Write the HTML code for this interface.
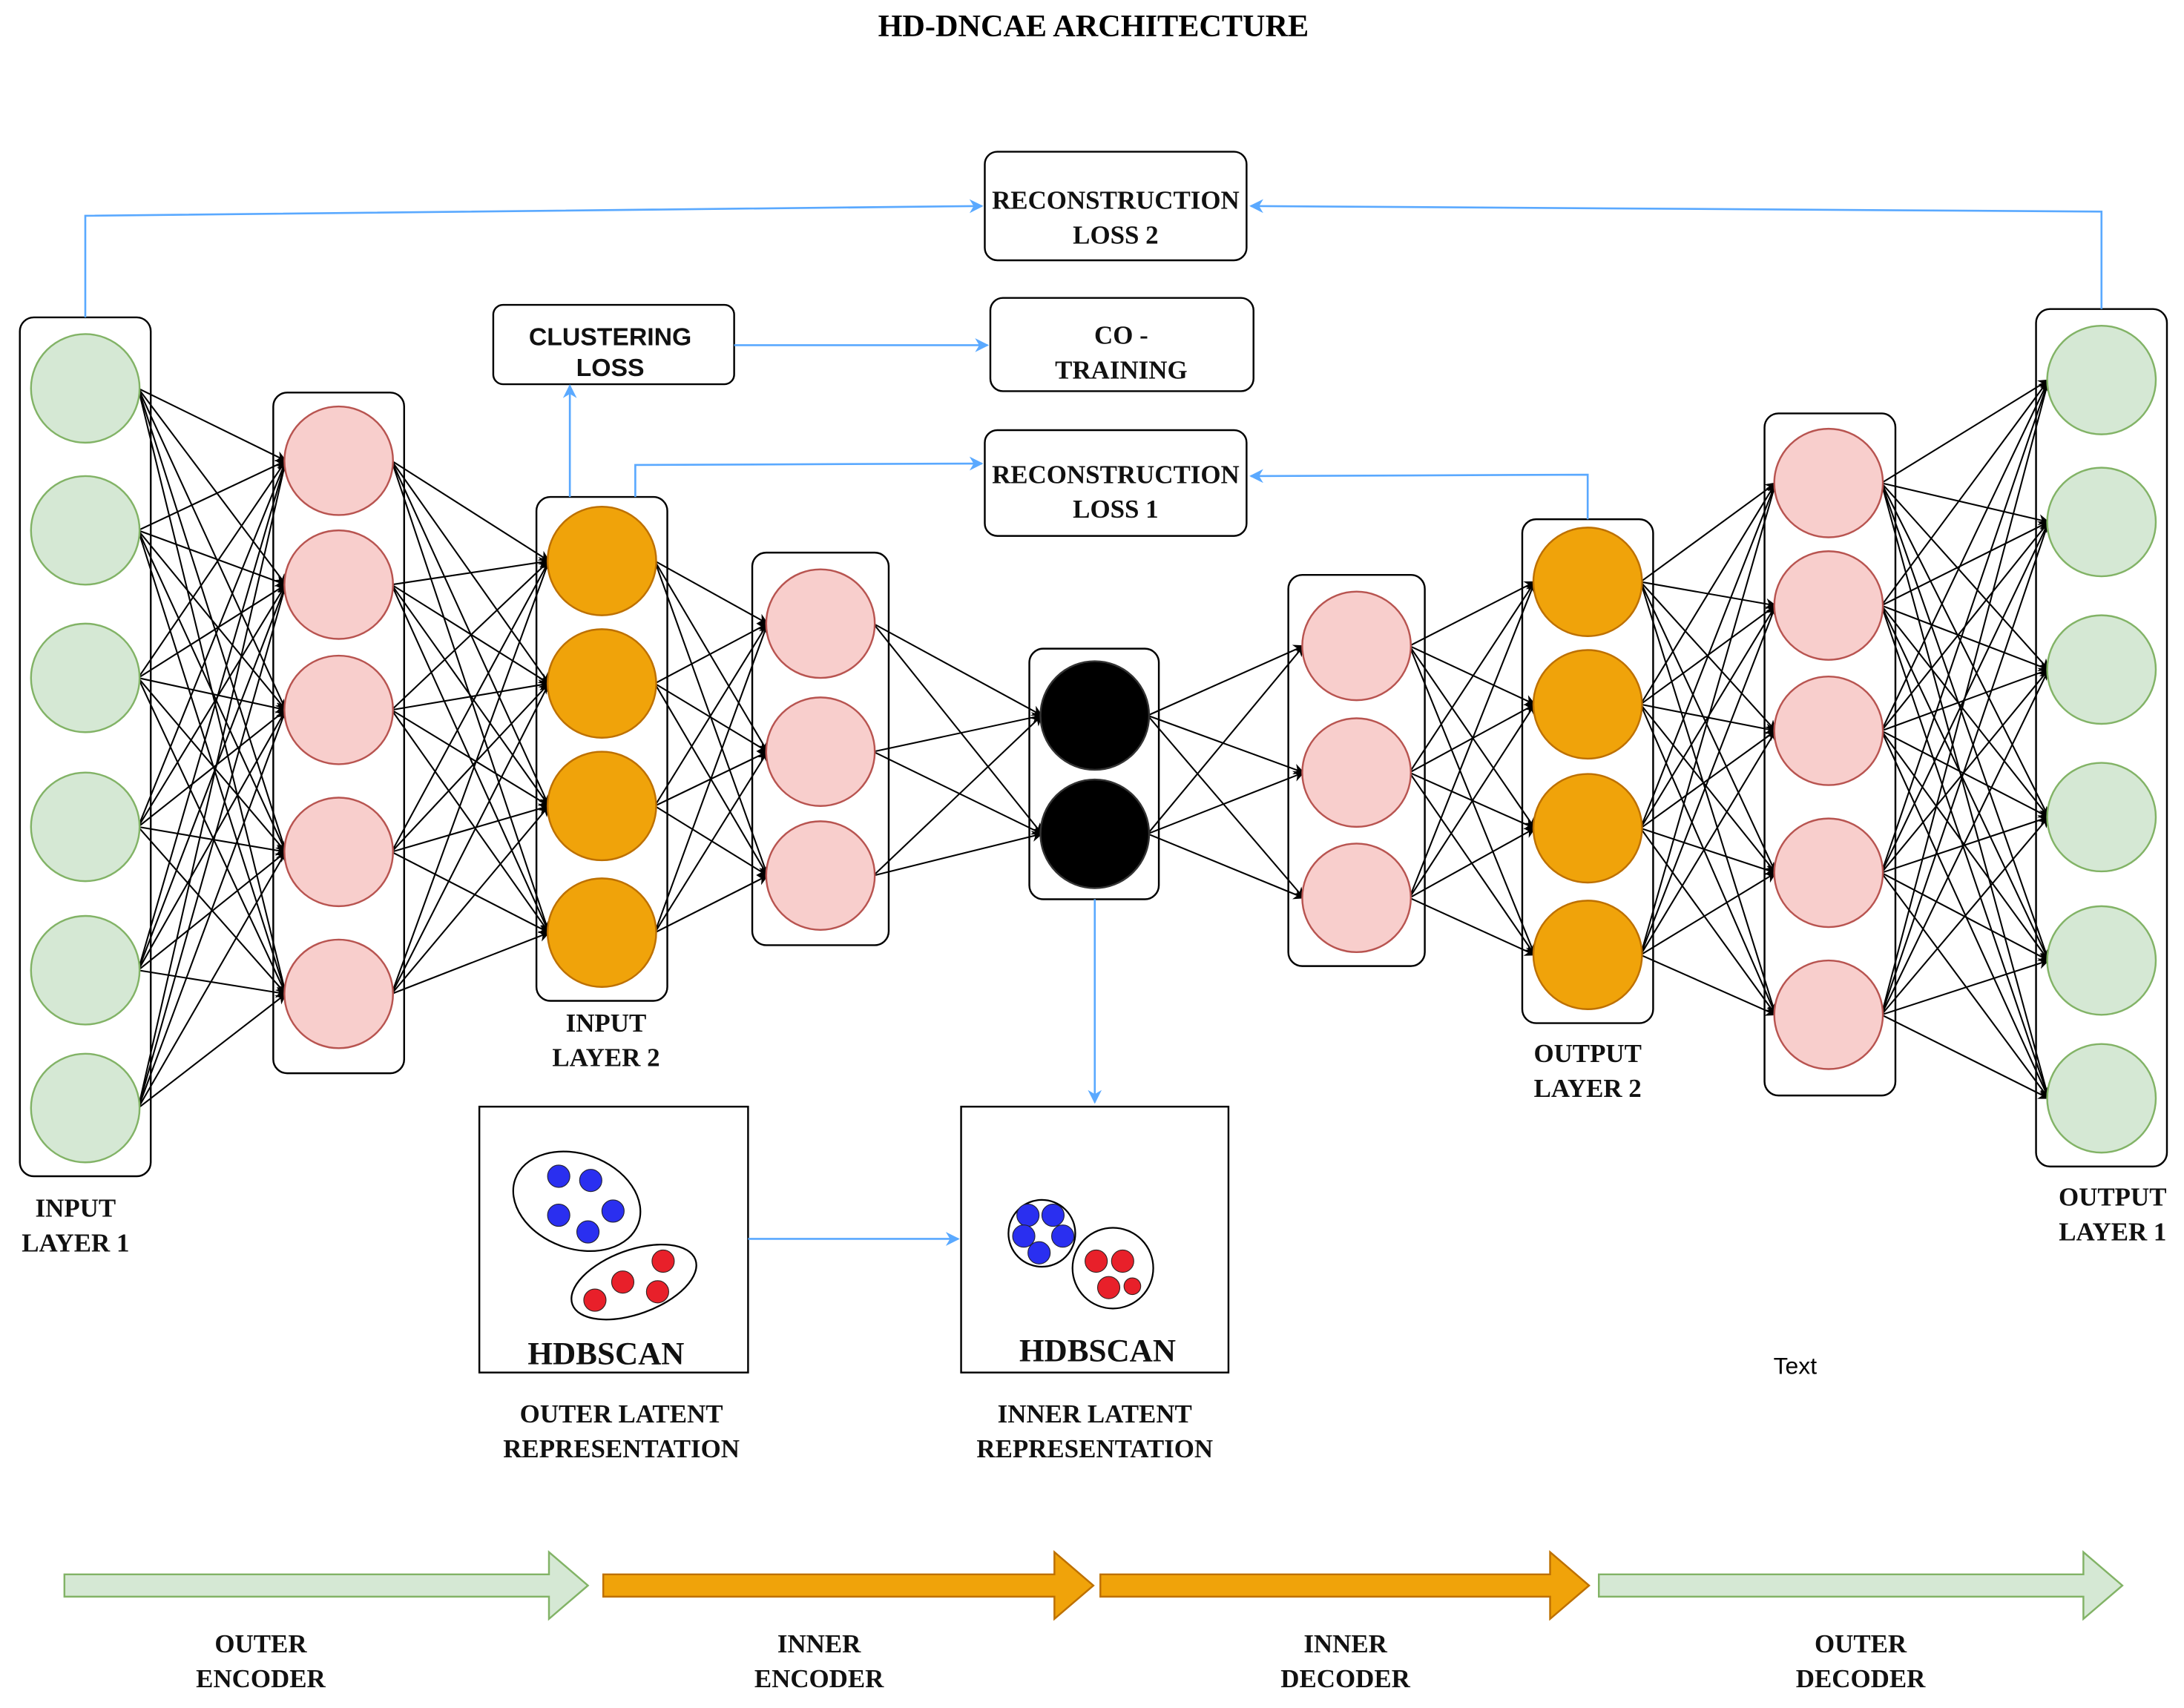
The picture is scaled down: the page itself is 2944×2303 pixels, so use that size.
<!DOCTYPE html>
<html><head><meta charset="utf-8">
<style>html,body{margin:0;padding:0;background:#fff}svg{display:block}</style>
</head><body>
<svg xmlns="http://www.w3.org/2000/svg" width="2944" height="2303" viewBox="0 0 1568 1227">
<defs>
<marker id="ak" viewBox="0 0 10 10" refX="9" refY="5" markerWidth="8" markerHeight="8" orient="auto" markerUnits="userSpaceOnUse"><path d="M0,0 L10,5 L0,10 L3,5 z" fill="#000"/></marker>
<marker id="ab" viewBox="0 0 10 10" refX="9" refY="5" markerWidth="10" markerHeight="10" orient="auto" markerUnits="userSpaceOnUse"><path d="M0,0 L10,5 L0,10 L3,5 z" fill="#5aa9ff"/></marker>
</defs>
<rect width="1568" height="1227" fill="#fff"/>
<text x="785" y="26" text-anchor="middle" font-family="Liberation Serif, serif" font-weight="bold" font-size="22.5">HD-DNCAE ARCHITECTURE</text>
<g stroke="#000" stroke-width="1.1" fill="none" marker-end="url(#ak)">
<line x1="99" y1="279" x2="205" y2="331"/><line x1="99" y1="279" x2="205" y2="420"/><line x1="99" y1="279" x2="205" y2="510"/><line x1="99" y1="279" x2="205" y2="612"/><line x1="99" y1="279" x2="205" y2="714"/>
<line x1="99" y1="381" x2="205" y2="331"/><line x1="99" y1="381" x2="205" y2="420"/><line x1="99" y1="381" x2="205" y2="510"/><line x1="99" y1="381" x2="205" y2="612"/><line x1="99" y1="381" x2="205" y2="714"/>
<line x1="99" y1="487" x2="205" y2="331"/><line x1="99" y1="487" x2="205" y2="420"/><line x1="99" y1="487" x2="205" y2="510"/><line x1="99" y1="487" x2="205" y2="612"/><line x1="99" y1="487" x2="205" y2="714"/>
<line x1="99" y1="594" x2="205" y2="331"/><line x1="99" y1="594" x2="205" y2="420"/><line x1="99" y1="594" x2="205" y2="510"/><line x1="99" y1="594" x2="205" y2="612"/><line x1="99" y1="594" x2="205" y2="714"/>
<line x1="99" y1="697" x2="205" y2="331"/><line x1="99" y1="697" x2="205" y2="420"/><line x1="99" y1="697" x2="205" y2="510"/><line x1="99" y1="697" x2="205" y2="612"/><line x1="99" y1="697" x2="205" y2="714"/>
<line x1="99" y1="796" x2="205" y2="331"/><line x1="99" y1="796" x2="205" y2="420"/><line x1="99" y1="796" x2="205" y2="510"/><line x1="99" y1="796" x2="205" y2="612"/><line x1="99" y1="796" x2="205" y2="714"/>
<line x1="281" y1="331" x2="394" y2="403"/><line x1="281" y1="331" x2="394" y2="491"/><line x1="281" y1="331" x2="394" y2="579"/><line x1="281" y1="331" x2="394" y2="670"/>
<line x1="281" y1="420" x2="394" y2="403"/><line x1="281" y1="420" x2="394" y2="491"/><line x1="281" y1="420" x2="394" y2="579"/><line x1="281" y1="420" x2="394" y2="670"/>
<line x1="281" y1="510" x2="394" y2="403"/><line x1="281" y1="510" x2="394" y2="491"/><line x1="281" y1="510" x2="394" y2="579"/><line x1="281" y1="510" x2="394" y2="670"/>
<line x1="281" y1="612" x2="394" y2="403"/><line x1="281" y1="612" x2="394" y2="491"/><line x1="281" y1="612" x2="394" y2="579"/><line x1="281" y1="612" x2="394" y2="670"/>
<line x1="281" y1="714" x2="394" y2="403"/><line x1="281" y1="714" x2="394" y2="491"/><line x1="281" y1="714" x2="394" y2="579"/><line x1="281" y1="714" x2="394" y2="670"/>
<line x1="470" y1="403" x2="551" y2="448"/><line x1="470" y1="403" x2="551" y2="540"/><line x1="470" y1="403" x2="551" y2="629"/>
<line x1="470" y1="491" x2="551" y2="448"/><line x1="470" y1="491" x2="551" y2="540"/><line x1="470" y1="491" x2="551" y2="629"/>
<line x1="470" y1="579" x2="551" y2="448"/><line x1="470" y1="579" x2="551" y2="540"/><line x1="470" y1="579" x2="551" y2="629"/>
<line x1="470" y1="670" x2="551" y2="448"/><line x1="470" y1="670" x2="551" y2="540"/><line x1="470" y1="670" x2="551" y2="629"/>
<line x1="627" y1="448" x2="748" y2="514"/><line x1="627" y1="448" x2="748" y2="599"/>
<line x1="627" y1="540" x2="748" y2="514"/><line x1="627" y1="540" x2="748" y2="599"/>
<line x1="627" y1="629" x2="748" y2="514"/><line x1="627" y1="629" x2="748" y2="599"/>
<line x1="824" y1="514" x2="936" y2="464"/><line x1="824" y1="514" x2="936" y2="555"/><line x1="824" y1="514" x2="936" y2="645"/>
<line x1="824" y1="599" x2="936" y2="464"/><line x1="824" y1="599" x2="936" y2="555"/><line x1="824" y1="599" x2="936" y2="645"/>
<line x1="1012" y1="464" x2="1102" y2="418"/><line x1="1012" y1="464" x2="1102" y2="506"/><line x1="1012" y1="464" x2="1102" y2="595"/><line x1="1012" y1="464" x2="1102" y2="686"/>
<line x1="1012" y1="555" x2="1102" y2="418"/><line x1="1012" y1="555" x2="1102" y2="506"/><line x1="1012" y1="555" x2="1102" y2="595"/><line x1="1012" y1="555" x2="1102" y2="686"/>
<line x1="1012" y1="645" x2="1102" y2="418"/><line x1="1012" y1="645" x2="1102" y2="506"/><line x1="1012" y1="645" x2="1102" y2="595"/><line x1="1012" y1="645" x2="1102" y2="686"/>
<line x1="1178" y1="418" x2="1275" y2="347"/><line x1="1178" y1="418" x2="1275" y2="435"/><line x1="1178" y1="418" x2="1275" y2="525"/><line x1="1178" y1="418" x2="1275" y2="627"/><line x1="1178" y1="418" x2="1275" y2="729"/>
<line x1="1178" y1="506" x2="1275" y2="347"/><line x1="1178" y1="506" x2="1275" y2="435"/><line x1="1178" y1="506" x2="1275" y2="525"/><line x1="1178" y1="506" x2="1275" y2="627"/><line x1="1178" y1="506" x2="1275" y2="729"/>
<line x1="1178" y1="595" x2="1275" y2="347"/><line x1="1178" y1="595" x2="1275" y2="435"/><line x1="1178" y1="595" x2="1275" y2="525"/><line x1="1178" y1="595" x2="1275" y2="627"/><line x1="1178" y1="595" x2="1275" y2="729"/>
<line x1="1178" y1="686" x2="1275" y2="347"/><line x1="1178" y1="686" x2="1275" y2="435"/><line x1="1178" y1="686" x2="1275" y2="525"/><line x1="1178" y1="686" x2="1275" y2="627"/><line x1="1178" y1="686" x2="1275" y2="729"/>
<line x1="1351" y1="347" x2="1471" y2="273"/><line x1="1351" y1="347" x2="1471" y2="375"/><line x1="1351" y1="347" x2="1471" y2="481"/><line x1="1351" y1="347" x2="1471" y2="587"/><line x1="1351" y1="347" x2="1471" y2="690"/><line x1="1351" y1="347" x2="1471" y2="789"/>
<line x1="1351" y1="435" x2="1471" y2="273"/><line x1="1351" y1="435" x2="1471" y2="375"/><line x1="1351" y1="435" x2="1471" y2="481"/><line x1="1351" y1="435" x2="1471" y2="587"/><line x1="1351" y1="435" x2="1471" y2="690"/><line x1="1351" y1="435" x2="1471" y2="789"/>
<line x1="1351" y1="525" x2="1471" y2="273"/><line x1="1351" y1="525" x2="1471" y2="375"/><line x1="1351" y1="525" x2="1471" y2="481"/><line x1="1351" y1="525" x2="1471" y2="587"/><line x1="1351" y1="525" x2="1471" y2="690"/><line x1="1351" y1="525" x2="1471" y2="789"/>
<line x1="1351" y1="627" x2="1471" y2="273"/><line x1="1351" y1="627" x2="1471" y2="375"/><line x1="1351" y1="627" x2="1471" y2="481"/><line x1="1351" y1="627" x2="1471" y2="587"/><line x1="1351" y1="627" x2="1471" y2="690"/><line x1="1351" y1="627" x2="1471" y2="789"/>
<line x1="1351" y1="729" x2="1471" y2="273"/><line x1="1351" y1="729" x2="1471" y2="375"/><line x1="1351" y1="729" x2="1471" y2="481"/><line x1="1351" y1="729" x2="1471" y2="587"/><line x1="1351" y1="729" x2="1471" y2="690"/><line x1="1351" y1="729" x2="1471" y2="789"/>
</g>
<g fill="none" stroke="#000" stroke-width="1.3">
<rect x="14" y="228" width="94" height="617" rx="10"/>
<rect x="196" y="282" width="94" height="489" rx="10"/>
<rect x="385" y="357" width="94" height="362" rx="10"/>
<rect x="540" y="397" width="98" height="282" rx="10"/>
<rect x="739" y="466" width="93" height="180" rx="10"/>
<rect x="925" y="413" width="98" height="281" rx="10"/>
<rect x="1093" y="373" width="94" height="362" rx="10"/>
<rect x="1267" y="297" width="94" height="490" rx="10"/>
<rect x="1462" y="222" width="94" height="616" rx="10"/>
</g>
<g fill="#d5e8d4" stroke="#82b366" stroke-width="1.3">
<circle cx="61" cy="279" r="39"/><circle cx="61" cy="381" r="39"/><circle cx="61" cy="487" r="39"/><circle cx="61" cy="594" r="39"/><circle cx="61" cy="697" r="39"/><circle cx="61" cy="796" r="39"/>
<circle cx="1509" cy="273" r="39"/><circle cx="1509" cy="375" r="39"/><circle cx="1509" cy="481" r="39"/><circle cx="1509" cy="587" r="39"/><circle cx="1509" cy="690" r="39"/><circle cx="1509" cy="789" r="39"/>
</g>
<g fill="#f8cecc" stroke="#b85450" stroke-width="1.3">
<circle cx="243" cy="331" r="39"/><circle cx="243" cy="420" r="39"/><circle cx="243" cy="510" r="39"/><circle cx="243" cy="612" r="39"/><circle cx="243" cy="714" r="39"/>
<circle cx="589" cy="448" r="39"/><circle cx="589" cy="540" r="39"/><circle cx="589" cy="629" r="39"/>
<circle cx="974" cy="464" r="39"/><circle cx="974" cy="555" r="39"/><circle cx="974" cy="645" r="39"/>
<circle cx="1313" cy="347" r="39"/><circle cx="1313" cy="435" r="39"/><circle cx="1313" cy="525" r="39"/><circle cx="1313" cy="627" r="39"/><circle cx="1313" cy="729" r="39"/>
</g>
<g fill="#f0a30a" stroke="#bd7000" stroke-width="1.3">
<circle cx="432" cy="403" r="39"/><circle cx="432" cy="491" r="39"/><circle cx="432" cy="579" r="39"/><circle cx="432" cy="670" r="39"/>
<circle cx="1140" cy="418" r="39"/><circle cx="1140" cy="506" r="39"/><circle cx="1140" cy="595" r="39"/><circle cx="1140" cy="686" r="39"/>
</g>
<g fill="#000" stroke="#333" stroke-width="1.3">
<circle cx="786" cy="514" r="39"/><circle cx="786" cy="599" r="39"/>
</g>
<g fill="#fff" stroke="#000" stroke-width="1.3">
<rect x="707" y="109" width="188" height="78" rx="9"/>
<rect x="354" y="219" width="173" height="57" rx="7"/>
<rect x="711" y="214" width="189" height="67" rx="9"/>
<rect x="707" y="309" width="188" height="76" rx="9"/>
<rect x="344" y="795" width="193" height="191"/>
<rect x="690" y="795" width="192" height="191"/>
</g>
<g font-family="Liberation Serif, serif" font-weight="bold" font-size="18.6" text-anchor="middle" fill="#111">
<text x="801" y="150">RECONSTRUCTION</text><text x="801" y="175">LOSS 2</text>
<text x="805" y="247">CO -</text><text x="805" y="272">TRAINING</text>
<text x="801" y="347">RECONSTRUCTION</text><text x="801" y="372">LOSS 1</text>
<text x="54" y="874">INPUT</text><text x="54" y="899">LAYER 1</text>
<text x="435" y="741">INPUT</text><text x="435" y="766">LAYER 2</text>
<text x="1140" y="763">OUTPUT</text><text x="1140" y="788">LAYER 2</text>
<text x="1517" y="866">OUTPUT</text><text x="1517" y="891">LAYER 1</text>
<text x="446" y="1022">OUTER LATENT</text><text x="446" y="1047">REPRESENTATION</text>
<text x="786" y="1022">INNER LATENT</text><text x="786" y="1047">REPRESENTATION</text>
<text x="187" y="1187">OUTER</text><text x="187" y="1212">ENCODER</text>
<text x="588" y="1187">INNER</text><text x="588" y="1212">ENCODER</text>
<text x="966" y="1187">INNER</text><text x="966" y="1212">DECODER</text>
<text x="1336" y="1187">OUTER</text><text x="1336" y="1212">DECODER</text>
<text x="435" y="980" font-size="23">HDBSCAN</text>
<text x="788" y="978" font-size="23">HDBSCAN</text>
</g>
<g font-family="Liberation Sans, sans-serif" font-weight="bold" font-size="18" text-anchor="middle" fill="#111">
<text x="438" y="248">CLUSTERING</text><text x="438" y="270">LOSS</text>
</g>
<text x="1289" y="987" font-family="Liberation Sans, sans-serif" font-size="17" text-anchor="middle">Text</text>
<g stroke="#5aa9ff" stroke-width="1.4" fill="none">
<polyline points="61,228 61,155 705,148" marker-end="url(#ab)"/>
<polyline points="1509,222 1509,152 898,148" marker-end="url(#ab)"/>
<polyline points="409,357 409,277" marker-end="url(#ab)"/>
<polyline points="527,248 709,248" marker-end="url(#ab)"/>
<polyline points="456,357 456,334 705,333" marker-end="url(#ab)"/>
<polyline points="1140,373 1140,341 898,342" marker-end="url(#ab)"/>
<polyline points="786,646 786,792" marker-end="url(#ab)"/>
<polyline points="537,890 688,890" marker-end="url(#ab)"/>
</g>
<g stroke="#000" stroke-width="1.2" fill="#fff">
<ellipse cx="414" cy="863" rx="47" ry="34" transform="rotate(20 414 863)"/>
<ellipse cx="455" cy="921" rx="47" ry="23" transform="rotate(-20 455 921)"/>
<circle cx="748" cy="886" r="24"/>
<circle cx="799" cy="911" r="29"/>
</g>
<g fill="#2a2ff0" stroke="#223" stroke-width="0.6">
<circle cx="401" cy="845" r="8"/><circle cx="424" cy="848" r="8"/><circle cx="401" cy="873" r="8"/><circle cx="422" cy="885" r="8"/><circle cx="440" cy="870" r="8"/>
<circle cx="738" cy="873" r="8"/><circle cx="756" cy="873" r="8"/><circle cx="735" cy="888" r="8"/><circle cx="763" cy="888" r="8"/><circle cx="746" cy="900" r="8"/>
</g>
<g fill="#e8202a" stroke="#322" stroke-width="0.6">
<circle cx="476" cy="906" r="8"/><circle cx="447" cy="921" r="8"/><circle cx="472" cy="928" r="8"/><circle cx="427" cy="934" r="8"/>
<circle cx="787" cy="906" r="8"/><circle cx="806" cy="906" r="8"/><circle cx="796" cy="925" r="8"/><circle cx="813" cy="924" r="6"/>
</g>
<g stroke-width="1.3">
<path d="M46,1131 H394 V1115 L422,1139 L394,1163 V1147 H46 Z" fill="#d5e8d4" stroke="#82b366"/>
<path d="M433,1131 H757 V1115 L785,1139 L757,1163 V1147 H433 Z" fill="#f0a30a" stroke="#bd7000"/>
<path d="M790,1131 H1113 V1115 L1141,1139 L1113,1163 V1147 H790 Z" fill="#f0a30a" stroke="#bd7000"/>
<path d="M1148,1131 H1496 V1115 L1524,1139 L1496,1163 V1147 H1148 Z" fill="#d5e8d4" stroke="#82b366"/>
</g>
</svg>
</body></html>
